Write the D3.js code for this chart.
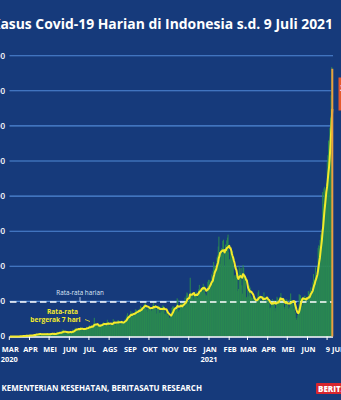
<!DOCTYPE html>
<html><head><meta charset="utf-8">
<script src="https://cdn.jsdelivr.net/npm/d3@7"></script>
<style>html,body{margin:0;padding:0;background:#163a7b;overflow:hidden}</style>
</head><body><svg id="c" width="341" height="400"></svg>
<script>
// ---------- DATA ----------
const titleText = "Kasus Covid-19 Harian di Indonesia s.d. 9 Juli 2021";
const sourceText = "SUMBER: KEMENTERIAN KESEHATAN, BERITASATU RESEARCH";
const yTickValues = [0, 5000, 10000, 15000, 20000, 25000, 30000, 35000, 40000];
const monthTickLabels = ["MAR","APR","MEI","JUN","JUL","AGS","SEP","OKT","NOV","DES","JAN","FEB","MAR","APR","MEI","JUN"];
const yearLabels = [["2020", 0], ["2021", 10]];
const lastLabel = "9 JULI";
const avgLabel = "Rata-rata harian";
const maLabel = ["Rata-rata", "bergerak 7 hari"];
const lastValueLabel = "38.124";

// month start dates for each daily series (first case: 2 March 2020)
const monthStarts = ["2020-03-02","2020-04-01","2020-05-01","2020-06-01","2020-07-01","2020-08-01","2020-09-01","2020-10-01","2020-11-01","2020-12-01","2021-01-01","2021-02-01","2021-03-01","2021-04-01","2021-05-01","2021-06-01","2021-07-01"];

const cases2020_03 = [2,0,0,0,2,0,2,13,8,7,0,35,27,21,17,38,55,82,60,81,64,65,107,104,103,153,109,130,129,114];
const cases2020_04 = [149,113,196,106,181,218,247,218,337,219,330,399,316,282,297,380,407,325,327,185,375,283,357,436,396,275,214,415,260,347];
const cases2020_05 = [433,292,349,395,484,367,338,336,387,233,387,484,689,568,490,529,489,496,486,693,973,634,949,526,479,415,686,687,678,557,700];
const cases2020_06 = [467,609,684,585,703,993,672,847,1043,1241,979,1111,1014,857,1208,1106,1031,1331,1041,1226,862,954,1051,1113,1178,1240,1385,1198,1082,1293];
const cases2020_07 = [1385,1624,1301,1447,1607,1209,1268,1853,2657,1611,1671,1681,1282,1591,1522,1574,1462,1752,1639,1693,1655,1882,2040,1761,1868,1525,1492,1748,2381,1904,2040];
const cases2020_08 = [1560,1519,1679,1922,1815,1882,2473,2277,1893,1687,1693,1942,2098,2307,2345,2081,1821,1673,1902,2266,2197,2090,1877,2037,2447,2306,2719,3003,3308,2858,2743];
const cases2020_09 = [2775,3075,3622,3269,3128,3444,2880,3046,3307,3861,3737,3806,3636,3141,3507,3963,3635,4369,4168,3989,4176,4071,4465,4634,4823,4494,3874,3509,4002,4284];
const cases2020_10 = [4174,4317,4007,3992,3622,4056,4538,4850,4094,4294,4497,3267,3906,4127,4411,4301,3373,4105,3373,3602,4267,4432,4369,4070,3222,3222,3520,4029,3143,2897,3143];
const cases2020_11 = [2696,2618,2973,3356,4065,4262,4301,4262,3880,3779,3770,4173,5444,5272,3535,3807,3807,4265,4798,4792,4998,4360,4442,4192,5534,4917,5828,6267,6131,4617];
const cases2020_12 = [5092,5533,8369,5803,6027,6089,5754,5292,6058,6033,5918,6388,6189,5489,6120,6726,7354,6725,6689,6848,6982,6347,7514,6809,7199,6145,5854,5854,6913,7799,8074];
const cases2021_01 = [7203,8072,6877,7179,8854,8367,9321,10617,10046,9640,8700,10047,11278,11557,12818,14224,11287,12183,10365,12568,11703,13632,13788,11788,9994,13094,11948,13695,14097,14518,12001];
const cases2021_02 = [10994,10961,11984,11434,10980,12156,10213,8242,8700,8776,8435,9868,8388,6462,6765,10029,9687,9039,9775,7300,6114,10180,9775,8493,8232,8124,5560,5651];
const cases2021_03 = [6680,5712,6808,7264,6971,5767,5540,5534,4853,5633,5144,5414,4855,4714,5473,5008,6279,6570,5651,5588,4963,5008,5227,5227,5656,6280,5008,5024,5467,5659,5708];
const cases2021_04 = [4864,5046,4711,4016,4120,4829,5112,5325,4538,5112,5105,3581,4052,5208,5656,5469,4846,5041,5633,5143,6177,4987,4831,5534,4843,3880,4193,5241,5288,5302];
const cases2021_05 = [4512,4429,3932,4123,5285,6130,5177,5177,5040,3922,4608,4877,3448,2633,2385,3080,2685,4108,6028,5909,5860,5465,5397,4338,5167,5554,5797,5801,5080,5185,5512];
const cases2021_06 = [4824,6486,6301,5564,6594,6993,6294,6050,7725,8892,8161,8083,9868,8189,8161,9944,12624,12990,12906,13737,14536,13633,15308,20574,18872,21095,21342,20694,20467,21807];
const cases2021_07 = [24836,25830,27913,27233,29745,31189,34379,38391,38124];

const monthlySeries = [cases2020_03,cases2020_04,cases2020_05,cases2020_06,cases2020_07,cases2020_08,cases2020_09,cases2020_10,cases2020_11,cases2020_12,cases2021_01,cases2021_02,cases2021_03,cases2021_04,cases2021_05,cases2021_06,cases2021_07];

// ---------- BUILD ----------
const parse = d3.timeParse("%Y-%m-%d");
const daily = [];
monthlySeries.forEach((arr, m) => {
  const s = parse(monthStarts[m]);
  arr.forEach((v, i) => daily.push({date: d3.timeDay.offset(s, i), value: v}));
});
daily.forEach((d, i) => {
  const win = daily.slice(Math.max(0, i - 6), i + 1);
  d.ma = d3.mean(win, e => e.value);
});
const dailyMean = d3.mean(daily, d => d.value);
const lastDay = daily[daily.length - 1];

const idLocale = d3.formatLocale({decimal: ",", thousands: ".", grouping: [3], currency: ["Rp", ""]});
const fmt = idLocale.format(",d");

const svg = d3.select("#c");
const FONT = "'Open Sans', sans-serif";
const BG = "#163a7b";
svg.append("rect").attr("width", 341).attr("height", 400).attr("fill", BG);

const x = d3.scaleTime().domain([parse("2020-03-01"), lastDay.date]).range([9.3, 332.3]);
const y = d3.scaleLinear().domain([0, 40000]).range([336.5, 55.7]);
const xLeft = 9.5, xRight = 333;

function fitSize(visible, target, weight) {
  const t = svg.append("text").attr("font-family", FONT).attr("font-weight", weight).attr("font-size", 10).text(visible);
  const w = t.node().getComputedTextLength();
  t.remove();
  return 10 * target / w;
}

// title
svg.append("text").attr("x", 333).attr("y", 28.5).attr("text-anchor", "end")
  .attr("font-family", FONT).attr("font-weight", 700).attr("fill", "#ffffff")
  .attr("font-size", fitSize(titleText.slice(1), 333, 700)).text(titleText);

// gridlines
svg.append("g").selectAll("line").data(yTickValues.filter(v => v > 0)).join("line")
  .attr("x1", xLeft).attr("x2", xRight).attr("y1", d => y(d)).attr("y2", d => y(d))
  .attr("stroke", "#5089d6").attr("stroke-width", 1.1);

// y labels (cropped at left edge)
svg.append("g").selectAll("text").data(yTickValues).join("text")
  .attr("x", 5).attr("y", d => y(d) + 2.8).attr("text-anchor", "end")
  .attr("font-family", FONT).attr("font-weight", 600).attr("font-size", 8).attr("fill", "#ffffff")
  .text(d => fmt(d));

// bars
const step = x(d3.timeDay.offset(parse("2020-03-01"), 1)) - x(parse("2020-03-01"));
svg.append("g").selectAll("rect").data(daily.slice(0, -1)).join("rect")
  .attr("x", d => x(d.date) - step / 2).attr("width", step + 0.3)
  .attr("y", d => y(d.value)).attr("height", d => y(0) - y(d.value))
  .attr("fill", "#2b8b50");

// daily average dashed line
svg.append("line").attr("x1", xLeft + 0.5).attr("x2", xRight).attr("y1", y(dailyMean)).attr("y2", y(dailyMean))
  .attr("stroke", "#ffffff").attr("stroke-width", 1.5).attr("stroke-dasharray", "6.5,3.5");

// baseline & ticks
svg.append("line").attr("x1", xLeft).attr("x2", xRight).attr("y1", y(0) + 0.5).attr("y2", y(0) + 0.5)
  .attr("stroke", "#ffffff").attr("stroke-width", 1.5);
const monthTicks = d3.timeMonth.range(parse("2020-03-01"), parse("2021-07-02"));
svg.append("g").selectAll("line").data(monthTicks).join("line")
  .attr("x1", d => x(d)).attr("x2", d => x(d)).attr("y1", y(0)).attr("y2", y(0) + 3.5)
  .attr("stroke", "#ffffff").attr("stroke-width", 1);

// month labels
svg.append("g").selectAll("text").data(monthTickLabels).join("text")
  .attr("x", (d, i) => x(monthTicks[i]) + 1).attr("y", 352)
  .attr("text-anchor", "middle").attr("font-family", FONT).attr("font-weight", 700)
  .attr("font-size", 7.4).attr("fill", "#ffffff").text(d => d);
svg.append("text").attr("x", x(lastDay.date) - 6.5).attr("y", 352).attr("text-anchor", "start")
  .attr("font-family", FONT).attr("font-weight", 700).attr("font-size", 7.4).attr("fill", "#ffffff").text(lastLabel);
svg.append("g").selectAll("text").data(yearLabels).join("text")
  .attr("x", d => x(monthTicks[d[1]]) - 8.5).attr("y", 361.5)
  .attr("text-anchor", "start").attr("font-family", FONT).attr("font-weight", 700)
  .attr("font-size", 7.4).attr("fill", "#ffffff").text(d => d[0]);

// 7-day moving average
svg.append("path").datum(daily)
  .attr("d", d3.line().x(d => x(d.date)).y(d => y(d.ma)).curve(d3.curveLinear))
  .attr("fill", "none").attr("stroke", "#f3ea2b").attr("stroke-width", 2).attr("stroke-linejoin", "round");

// last day highlighted bar
svg.append("line").attr("x1", x(lastDay.date)).attr("x2", x(lastDay.date))
  .attr("y1", y(lastDay.value)).attr("y2", y(0))
  .attr("stroke", "#e9a040").attr("stroke-width", 2);

// annotation box (cropped at right edge)
svg.append("rect").attr("x", 338.5).attr("y", 77.5).attr("width", 40).attr("height", 33).attr("fill", "#e4592b");
svg.append("text").attr("x", 340).attr("y", 91).attr("font-family", FONT).attr("font-weight", 700)
  .attr("font-size", 9).attr("fill", "#ffffff").text(lastValueLabel);

// annotation: daily average
svg.append("text").attr("x", 80).attr("y", 295).attr("text-anchor", "middle")
  .attr("font-family", FONT).attr("font-size", 6.3).attr("fill", "#dfe7f7").text(avgLabel);
svg.append("line").attr("x1", 80).attr("x2", 80).attr("y1", 297).attr("y2", y(dailyMean))
  .attr("stroke", "#dfe7f7").attr("stroke-width", 0.8);

// annotation: moving average
svg.append("text").attr("x", 62.5).attr("y", 314.3).attr("text-anchor", "middle")
  .attr("font-family", FONT).attr("font-weight", 700).attr("font-size", 6.6).attr("fill", "#f3ea2b").text(maLabel[0]);
svg.append("text").attr("x", 55.5).attr("y", 322).attr("text-anchor", "middle")
  .attr("font-family", FONT).attr("font-weight", 700).attr("font-size", 6.6).attr("fill", "#f3ea2b").text(maLabel[1]);
svg.append("line").attr("x1", 85).attr("x2", 90).attr("y1", 319.5).attr("y2", 321.5)
  .attr("stroke", "#f3ea2b").attr("stroke-width", 0.8);

// source
svg.append("text").attr("x", 202).attr("y", 390.5).attr("text-anchor", "end")
  .attr("font-family", FONT).attr("font-weight", 700).attr("fill", "#ffffff")
  .attr("font-size", fitSize(sourceText.slice(8), 201, 700)).text(sourceText);

// logo (cropped)
svg.append("rect").attr("x", 316).attr("y", 383).attr("width", 40).attr("height", 11).attr("rx", 1).attr("fill", "#d8262e");
svg.append("text").attr("x", 318).attr("y", 391.8).attr("font-family", FONT).attr("font-weight", 800)
  .attr("font-size", 8).attr("fill", "#ffffff").text("BERITASATU");
</script></body></html>
